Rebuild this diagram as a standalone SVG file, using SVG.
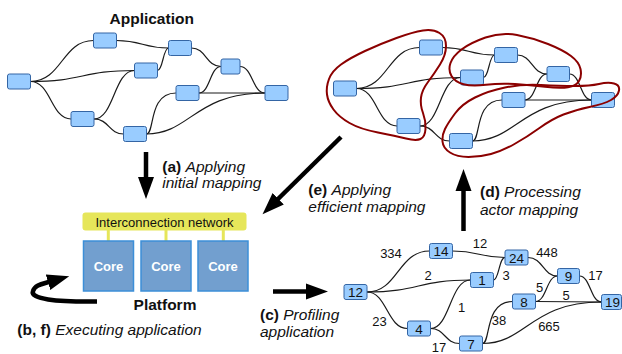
<svg xmlns="http://www.w3.org/2000/svg" width="622" height="354" viewBox="0 0 622 354">
<style>
text{font-family:"Liberation Sans",Arial,sans-serif;fill:#111}
.n rect{fill:#99ccff;stroke:#3465a4;stroke-width:1}
.n text{font-size:13.5px;text-anchor:middle}
.e path{fill:none;stroke:#1a1a1a;stroke-width:1.2}
.lbl{font-size:13px;text-anchor:middle}
.title{font-size:15.5px;font-weight:bold;text-anchor:middle}
.step{font-size:15.5px}
.b{font-weight:bold}
.i{font-style:italic}
.blob{fill:none;stroke:#8b0000;stroke-width:2}
.arr{fill:none;stroke:#000;stroke-width:4.5}
.core rect{fill:#729fcf;stroke:#3c8fd8;stroke-width:1.5}
.core text{fill:#fff;font-size:13px;font-weight:bold;text-anchor:middle}
.stem{stroke:#e6e65a;stroke-width:3}
</style>
<defs>
<marker id="ah" markerUnits="userSpaceOnUse" markerWidth="23" markerHeight="17" viewBox="0 -8.5 23 17" refX="1" refY="0" orient="auto"><path d="M0,-8 L22,0 L0,8 z" fill="#000"/></marker>
</defs>

<text class="title" x="151.7" y="24">Application</text>

<!-- Left application graph connectors -->
<g id="app-connectors" class="e">
<path d="M30.5,81.5 C62,81.5 62,40.5 93.5,40.5"/>
<path d="M30.5,81.5 C82.5,81.5 82.5,70.5 134.5,70.5"/>
<path d="M30.5,81.5 C51,81.5 51,119 71,119"/>
<path d="M116.5,40.5 C142.5,40.5 142.5,48 168.5,48"/>
<path d="M157.5,70.5 C163,70.5 163,48 168.5,48"/>
<path d="M94,119 C114,119 114,70.5 134.5,70.5"/>
<path d="M94,119 C109,119 109,134 123.5,134"/>
<path d="M191.5,48 C206,48 206,66.5 221,66.5"/>
<path d="M199,93 C210,93 210,66.5 221,66.5"/>
<path d="M240,66.5 C252.5,66.5 252.5,93 265,93"/>
<path d="M199,93 L265,93"/>
<path d="M146.5,134 C155,134 148,93 176,93"/>
<path d="M146.5,134 C190,134 195,93 265,93"/>
</g>
<g id="appA" class="n"><rect x="7.5" y="74" width="23" height="15" rx="2"/></g>
<g id="appB" class="n"><rect x="93.5" y="33" width="23" height="15" rx="2"/></g>
<g id="appC" class="n"><rect x="168.5" y="40.5" width="23" height="15" rx="2"/></g>
<g id="appD" class="n"><rect x="134.5" y="63" width="23" height="15" rx="2"/></g>
<g id="appE" class="n"><rect x="221" y="59" width="19" height="15" rx="2"/></g>
<g id="appF" class="n"><rect x="176" y="85.5" width="23" height="15" rx="2"/></g>
<g id="appG" class="n"><rect x="265" y="85.5" width="23" height="15" rx="2"/></g>
<g id="appH" class="n"><rect x="71" y="111.5" width="23" height="15" rx="2"/></g>
<g id="appI" class="n"><rect x="123.5" y="126.5" width="23" height="15" rx="2"/></g>

<!-- Right mapped graph connectors -->
<g id="map-connectors" class="e">
<path d="M356.5,88.5 C388,88.5 388,47.5 419.5,47.5"/>
<path d="M356.5,88.5 C408.5,88.5 408.5,77.5 460.5,77.5"/>
<path d="M356.5,88.5 C377,88.5 377,126 397,126"/>
<path d="M442.5,47.5 C468.5,47.5 468.5,55 494.5,55"/>
<path d="M483.5,77.5 C489,77.5 489,55 494.5,55"/>
<path d="M420,126 C440,126 440,77.5 460.5,77.5"/>
<path d="M420,126 C435,126 435,141 449.5,141"/>
<path d="M517.5,55 C532,55 532,74 547,74"/>
<path d="M525,100 C536,100 536,74 547,74"/>
<path d="M569.5,74 C580.5,74 580.5,100 591.5,100"/>
<path d="M525,100 L591.5,100"/>
<path d="M472.5,141 C481,141 474,100 502,100"/>
<path d="M472.5,141 C516,141 521,100 591.5,100"/>
</g>
<g id="mapA" class="n"><rect x="333.5" y="81" width="23" height="15" rx="2"/></g>
<g id="mapB" class="n"><rect x="419.5" y="40" width="23" height="15" rx="2"/></g>
<g id="mapC" class="n"><rect x="494.5" y="47.5" width="23" height="15" rx="2"/></g>
<g id="mapD" class="n"><rect x="460.5" y="70" width="23" height="15" rx="2"/></g>
<g id="mapE" class="n"><rect x="547" y="66.5" width="22.5" height="15" rx="2"/></g>
<g id="mapF" class="n"><rect x="502" y="92.5" width="23" height="15" rx="2"/></g>
<g id="mapG" class="n"><rect x="591.5" y="92.5" width="23" height="15" rx="2"/></g>
<g id="mapH" class="n"><rect x="397" y="118.5" width="23" height="15" rx="2"/></g>
<g id="mapI" class="n"><rect x="449.5" y="133.5" width="23" height="15" rx="2"/></g>

<!-- cluster outlines -->
<g id="clusters">
<path class="blob" d="M423,30.5 Q433,29 439.5,33 Q446,37 446,46 Q446,55 440,64.5 Q434,74 428,82 Q422,90 421,97.5 Q420,105 423,113 Q426,121 425.5,129 Q425,137 420.5,139 Q416,141 406,138.5 Q396,136 378,132.5 Q360,129 349.5,123 Q339,117 333.5,109.5 Q328,102 327,94.5 Q326,87 329,79 Q332,71 341,64.5 Q350,58 365,51 Q380,44 396.5,38 Q413,32 423,30.5 Z"/>
<path class="blob" d="M485.5,37.5 Q501,32 517,35 Q533,38 548,44 Q563,50 571,56 Q579,62 580.5,69 Q582,76 579,81 Q576,86 568,87.25 Q560,88.5 545,86.75 Q530,85 515,84 Q500,83 486,84.75 Q472,86.5 463.5,84.25 Q455,82 451.5,76 Q448,70 450.5,63 Q453,56 461.5,49.5 Q470,43 485.5,37.5 Z"/>
<path class="blob" d="M445,129 Q448,123 455,113.5 Q462,104 475,97.5 Q488,91 505,87.5 Q522,84 541,85 Q560,86 575,86 Q590,86 599,84 Q608,82 614,83.5 Q620,85 619,90.5 Q618,96 611,100 Q604,104 589.5,107 Q575,110 563.5,114.5 Q552,119 539.5,128 Q527,137 514.5,144 Q502,151 491,154 Q480,157 468.5,157 Q457,157 450,152.5 Q443,148 442.5,141.5 Q442,135 445,129 Z"/>
</g>

<!-- Platform -->
<g id="platform">
<rect x="82.5" y="212.5" width="164" height="18" rx="3" fill="#e6e65a"/>
<text x="164.5" y="226.5" font-size="13" text-anchor="middle">Interconnection network</text>
<line class="stem" x1="108.3" y1="230" x2="108.3" y2="241"/>
<line class="stem" x1="166" y1="230" x2="166" y2="241"/>
<line class="stem" x1="223.3" y1="230" x2="223.3" y2="241"/>
<g id="core1" class="core"><rect x="83.5" y="241" width="50" height="50"/><text x="108.5" y="270.5">Core</text></g>
<g id="core2" class="core"><rect x="141" y="241" width="50" height="50"/><text x="166" y="270.5">Core</text></g>
<g id="core3" class="core"><rect x="198" y="241" width="50" height="50"/><text x="223" y="270.5">Core</text></g>
<text class="title" x="165" y="310">Platform</text>
</g>

<!-- Step arrows -->
<g id="step-arrows">
<path class="arr" d="M146,152 L146,178" marker-end="url(#ah)"/>
<path class="arr" d="M341,137 L277.5,199.5" marker-end="url(#ah)"/>
<path class="arr" d="M463.5,231 L463.5,190" marker-end="url(#ah)"/>
<path class="arr" d="M273,291.5 L307,291.5" marker-end="url(#ah)"/>
<path class="arr" d="M97,301.5 C55,302 30,299 33,291 C35,285 42,284 49,282" marker-end="url(#ah)"/>
</g>

<text class="step" x="162.3" y="171.7"><tspan class="b">(a)</tspan> <tspan class="i">Applying</tspan></text>
<text class="step i" x="162.3" y="188.3">initial mapping</text>
<text class="step" x="308.3" y="195"><tspan class="b">(e)</tspan> <tspan class="i">Applying</tspan></text>
<text class="step i" x="308.3" y="211.7">efficient mapping</text>
<text class="step" x="480" y="197.3"><tspan class="b">(d)</tspan> <tspan class="i">Processing</tspan></text>
<text class="step i" x="480" y="215">actor mapping</text>
<text class="step" x="260" y="320"><tspan class="b">(c)</tspan> <tspan class="i">Profiling</tspan></text>
<text class="step i" x="260" y="337">application</text>
<text class="step" x="17.3" y="335"><tspan class="b">(b, f)</tspan> <tspan class="i">Executing application</tspan></text>

<!-- Profiled graph -->
<g id="prof-connectors" class="e">
<path d="M367,292 C398,292 398,251 429.5,251"/>
<path d="M367,292 C418.5,292 418.5,280 470.5,280"/>
<path d="M367,292 C387,292 387,328.5 407.5,328.5"/>
<path d="M452.5,251 C479,251 479,257.5 505,257.5"/>
<path d="M493.5,280 C499,280 499,257.5 505,257.5"/>
<path d="M430.5,328.5 C450,328.5 450,280 470.5,280"/>
<path d="M430.5,328.5 C445,328.5 445,343.5 459.5,343.5"/>
<path d="M528,257.5 C543,257.5 543,276 557.5,276"/>
<path d="M535.5,301.5 C546.5,301.5 546.5,276 557.5,276"/>
<path d="M579.5,276 C590.5,276 590.5,302 601.5,302"/>
<path d="M535.5,301.5 L601.5,302"/>
<path d="M482.5,343.5 C491,343.5 484,301.5 512.5,301.5"/>
<path d="M482.5,343.5 C526,343.5 531,302 601.5,302"/>
</g>
<g id="prof-labels">
<text class="lbl" x="391" y="258">334</text>
<text class="lbl" x="428" y="279.5">2</text>
<text class="lbl" x="379.5" y="326">23</text>
<text class="lbl" x="480" y="248">12</text>
<text class="lbl" x="506" y="280">3</text>
<text class="lbl" x="461.5" y="312">1</text>
<text class="lbl" x="439" y="351.5">17</text>
<text class="lbl" x="547" y="257">448</text>
<text class="lbl" x="539.5" y="291.5">5</text>
<text class="lbl" x="595.5" y="280">17</text>
<text class="lbl" x="566" y="299.5">5</text>
<text class="lbl" x="499" y="325">38</text>
<text class="lbl" x="549" y="330.5">665</text>
</g>
<g id="n12" class="n"><rect x="344" y="284.5" width="23" height="15" rx="2"/><text x="355.5" y="297">12</text></g>
<g id="n14" class="n"><rect x="429.5" y="243.5" width="23" height="15" rx="2"/><text x="441" y="256">14</text></g>
<g id="n1" class="n"><rect x="470.5" y="272.5" width="23" height="15" rx="2"/><text x="482" y="285">1</text></g>
<g id="n4" class="n"><rect x="407.5" y="321" width="23" height="15" rx="2"/><text x="419" y="333.5">4</text></g>
<g id="n7" class="n"><rect x="459.5" y="336" width="23" height="15" rx="2"/><text x="471" y="348.5">7</text></g>
<g id="n24" class="n"><rect x="505" y="250" width="23" height="15" rx="2"/><text x="516.5" y="262.5">24</text></g>
<g id="n9" class="n"><rect x="557.5" y="268.5" width="22" height="15" rx="2"/><text x="568.5" y="281">9</text></g>
<g id="n8" class="n"><rect x="512.5" y="294" width="23" height="15" rx="2"/><text x="524" y="306.5">8</text></g>
<g id="n19" class="n"><rect x="601.5" y="294.5" width="20" height="15" rx="2"/><text x="612.5" y="307">19</text></g>
</svg>
